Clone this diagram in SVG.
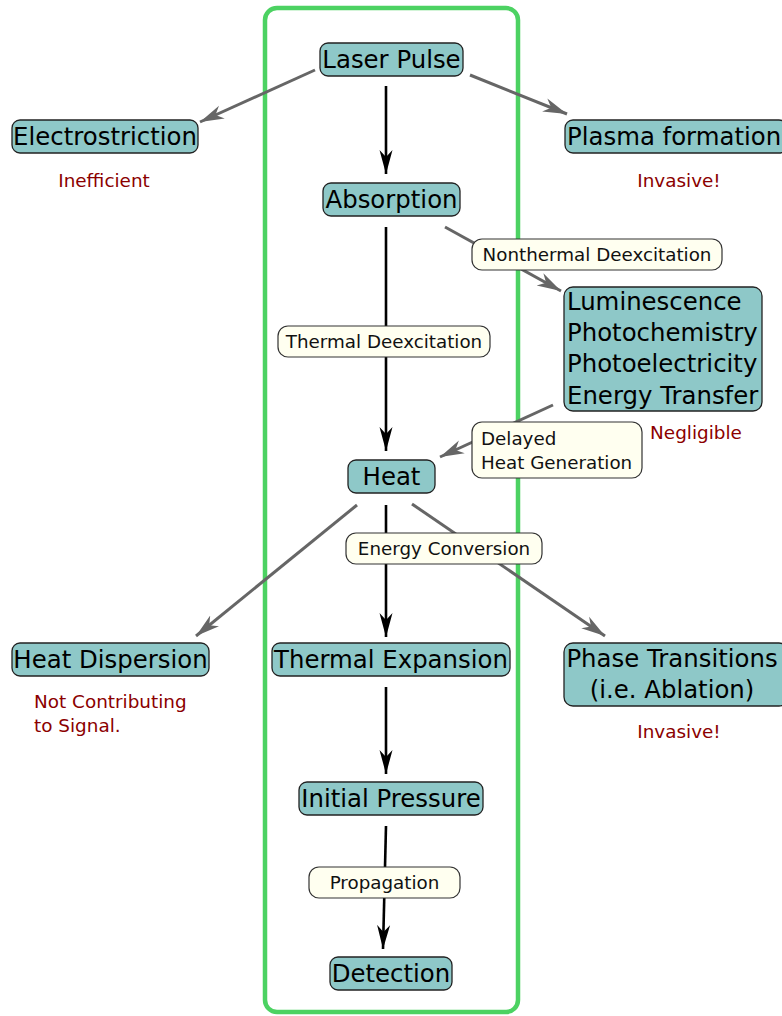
<svg xmlns="http://www.w3.org/2000/svg" width="782" height="1016" viewBox="0 0 782 1016">
<style>
.node rect{fill:#8ec8c8;stroke:#222;stroke-width:1.3}
.node text{font-family:"DejaVu Sans",sans-serif;font-size:24.4px;fill:#000}
.lbl rect{fill:#fffff0;stroke:#333;stroke-width:1.2}
.lbl text{font-family:"DejaVu Sans",sans-serif;font-size:18.3px;fill:#111}
.note{font-family:"DejaVu Sans",sans-serif;font-size:18.4px;fill:#8b0000}
.main{stroke:#000;stroke-width:2.6;fill:none;marker-end:url(#ab)}
.side{stroke:#666;stroke-width:3;fill:none;marker-end:url(#ag)}
</style>
<defs>
<marker id="ab" markerUnits="userSpaceOnUse" markerWidth="26" markerHeight="16" viewBox="0 -8 26 16" refX="24" refY="0" orient="auto">
<path d="M0,-6.5 L24,0 L0,6.5 L7,0 z" fill="#000"/>
</marker>
<marker id="ag" markerUnits="userSpaceOnUse" markerWidth="26" markerHeight="16" viewBox="0 -8 26 16" refX="24" refY="0" orient="auto">
<path d="M0,-7 L24,0 L0,7 L7,0 z" fill="#666"/>
</marker>
</defs>
<rect x="265" y="8" width="253" height="1004" rx="12" fill="none" stroke="#4cd262" stroke-width="4.5"/>
<g id="connectors">
<line class="main" x1="386" y1="86" x2="386" y2="174"/>
<line class="side" x1="315" y1="70" x2="200" y2="122"/>
<line class="side" x1="470" y1="75" x2="567" y2="114"/>
<line class="side" x1="445" y1="227" x2="561" y2="291"/>
<line class="main" x1="386" y1="227" x2="386" y2="451"/>
<line class="side" x1="553" y1="405" x2="440" y2="457"/>
<line class="main" x1="386" y1="505" x2="386" y2="637"/>
<line class="side" x1="357" y1="505" x2="196" y2="636"/>
<line class="side" x1="412" y1="504" x2="605" y2="636"/>
<line class="main" x1="386" y1="687" x2="386" y2="774"/>
<line class="main" x1="386" y1="826" x2="383" y2="949"/>
</g>
<g id="lbl-nonthermal" class="lbl"><rect x="472" y="239" width="250" height="31" rx="10"/><text x="597" y="261" text-anchor="middle">Nonthermal Deexcitation</text></g>
<g id="lbl-thermal" class="lbl"><rect x="278" y="326" width="212" height="31" rx="10"/><text x="384" y="348" text-anchor="middle">Thermal Deexcitation</text></g>
<g id="lbl-delayed" class="lbl"><rect x="472" y="422" width="170" height="56" rx="10"/><text x="481" y="445">Delayed</text><text x="481" y="469">Heat Generation</text></g>
<g id="lbl-energy" class="lbl"><rect x="346" y="533" width="196" height="31" rx="10"/><text x="444" y="555" text-anchor="middle">Energy Conversion</text></g>
<g id="lbl-prop" class="lbl"><rect x="309" y="867" width="151" height="31" rx="10"/><text x="384.5" y="889" text-anchor="middle">Propagation</text></g>
<g id="laser" class="node"><rect x="320" y="43" width="143" height="33" rx="8"/><text x="391.5" y="68" text-anchor="middle">Laser Pulse</text></g>
<g id="electro" class="node"><rect x="12" y="120" width="186" height="33" rx="8"/><text x="105" y="145" text-anchor="middle">Electrostriction</text></g>
<g id="plasma" class="node"><rect x="565" y="120" width="222" height="33" rx="8"/><text x="567" y="145">Plasma formation</text></g>
<g id="absorption" class="node"><rect x="323" y="183" width="137" height="33" rx="8"/><text x="391.5" y="208" text-anchor="middle">Absorption</text></g>
<g id="lumi" class="node"><rect x="564" y="287" width="198" height="124" rx="9"/><text x="567" y="310">Luminescence</text><text x="567" y="341">Photochemistry</text><text x="567" y="372">Photoelectricity</text><text x="567" y="404">Energy Transfer</text></g>
<g id="heat" class="node"><rect x="348" y="460" width="87" height="33" rx="8"/><text x="391.5" y="485" text-anchor="middle">Heat</text></g>
<g id="dispersion" class="node"><rect x="12" y="643" width="197" height="33" rx="8"/><text x="110.5" y="668" text-anchor="middle">Heat Dispersion</text></g>
<g id="expansion" class="node"><rect x="272" y="643" width="238" height="33" rx="8"/><text x="391" y="668" text-anchor="middle">Thermal Expansion</text></g>
<g id="phase" class="node"><rect x="564" y="643" width="224" height="63" rx="9"/><text x="672" y="667" text-anchor="middle">Phase Transitions</text><text x="672" y="698" text-anchor="middle">(i.e. Ablation)</text></g>
<g id="pressure" class="node"><rect x="299" y="782" width="184" height="33" rx="8"/><text x="391" y="807" text-anchor="middle">Initial Pressure</text></g>
<g id="detection" class="node"><rect x="330" y="957" width="122" height="33" rx="8"/><text x="391" y="982" text-anchor="middle">Detection</text></g>
<g id="notes">
<text class="note" x="104" y="187" text-anchor="middle">Inefficient</text>
<text class="note" x="679" y="187" text-anchor="middle">Invasive!</text>
<text class="note" x="696" y="439" text-anchor="middle">Negligible</text>
<text class="note" x="34" y="708">Not Contributing</text>
<text class="note" x="34" y="732">to Signal.</text>
<text class="note" x="679" y="738" text-anchor="middle">Invasive!</text>
</g>
</svg>
